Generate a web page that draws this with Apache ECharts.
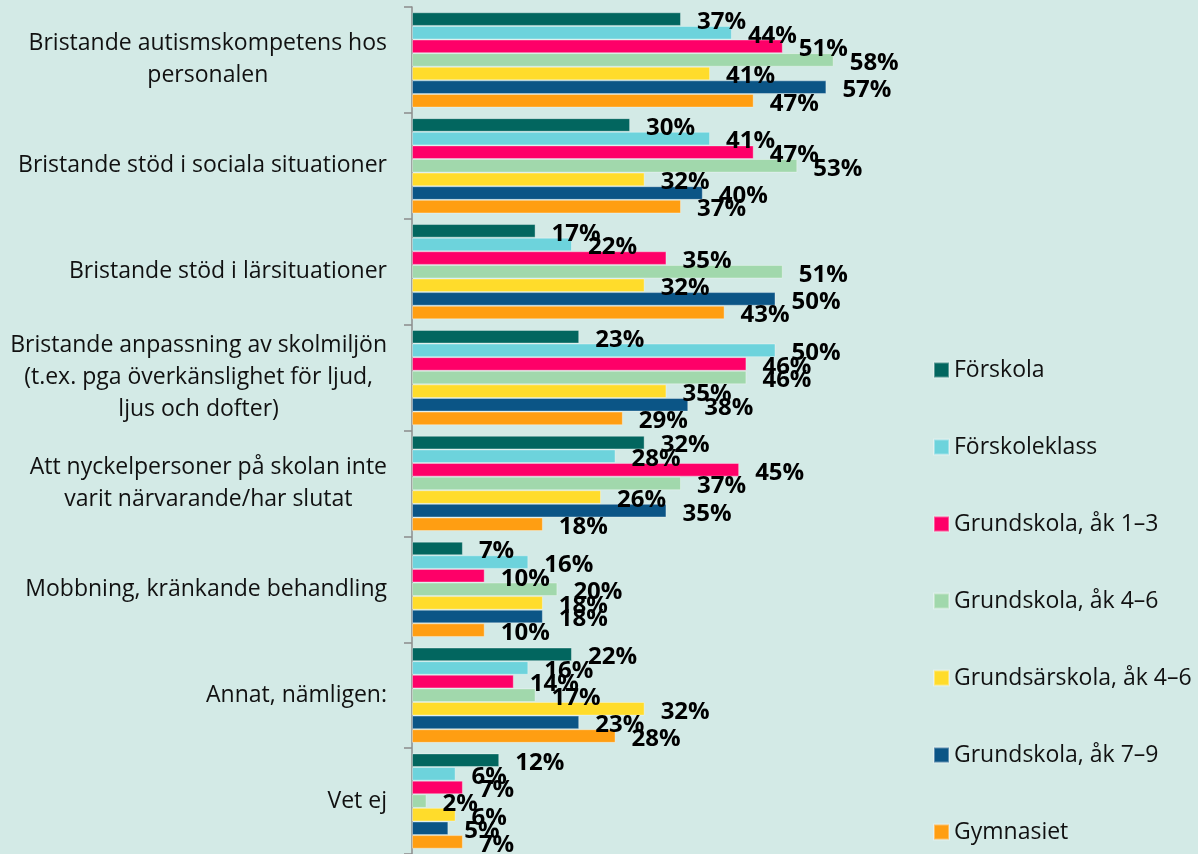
<!DOCTYPE html>
<html>
<head>
<meta charset="utf-8">
<script src="https://cdn.jsdelivr.net/npm/echarts@6/dist/echarts.min.js"></script>
<style>
html,body{margin:0;padding:0;background:#d3eae6;}
#c{width:1198px;height:854px;}
</style>
</head>
<body>
<div id="c"></div>
<script>
const categories = [
  'Bristande autismskompetens hos\npersonalen',
  'Bristande stöd i sociala situationer',
  'Bristande stöd i lärsituationer',
  'Bristande anpassning av skolmiljön\n(t.ex. pga överkänslighet för ljud,\nljus och dofter)',
  'Att nyckelpersoner på skolan inte\nvarit närvarande/har slutat',
  'Mobbning, kränkande behandling',
  'Annat, nämligen:',
  'Vet ej'
];
const seriesNames = [
  'Förskola',
  'Förskoleklass',
  'Grundskola, åk 1–3',
  'Grundskola, åk 4–6',
  'Grundsärskola, åk 4–6',
  'Grundskola, åk 7–9',
  'Gymnasiet'
];
const forskola      = [37, 30, 17, 23, 32,  7, 22, 12];
const forskoleklass = [44, 41, 22, 50, 28, 16, 16,  6];
const grundskola13  = [51, 47, 35, 46, 45, 10, 14,  7];
const grundskola46  = [58, 53, 51, 46, 37, 20, 17,  2];
const grundsar46    = [41, 32, 32, 35, 26, 18, 32,  6];
const grundskola79  = [57, 40, 50, 38, 35, 18, 23,  5];
const gymnasiet     = [47, 37, 43, 29, 18, 10, 28,  7];

const seriesValues = [forskola, forskoleklass, grundskola13, grundskola46, grundsar46, grundskola79, gymnasiet];
const colors = ['#02665f', '#6dd3dc', '#fe0068', '#a1d8ac', '#ffdc2b', '#0b5586', '#ff9e12'];

const chart = echarts.init(document.getElementById('c'));
chart.setOption({
  backgroundColor: '#d3eae6',
  animation: false,
  grid: { left: 412, top: 7, width: 727, height: 848, containLabel: false },
  xAxis: { type: 'value', min: 0, max: 100, show: false },
  yAxis: {
    type: 'category',
    data: categories,
    inverse: true,
    axisLine: { show: true, lineStyle: { color: '#8c8c8c', width: 1.5 } },
    axisTick: { show: true, length: 8, lineStyle: { color: '#8c8c8c', width: 1.5 } },
    splitLine: { show: false },
    axisLabel: {
      margin: 25,
      formatter: function (v) {
        return v.split('\n').map(function (l) { return '{c|' + l + '}'; }).join('\n');
      },
      rich: {
        c: { align: 'center', fontFamily: 'Open Sans', fontSize: 23, color: '#111', lineHeight: 32 }
      }
    }
  },
  legend: {
    orient: 'vertical',
    left: 933,
    top: 358,
    padding: 0,
    itemWidth: 15,
    itemHeight: 15,
    itemGap: 53,
    icon: 'rect',
    selectedMode: false,
    textStyle: { fontFamily: 'Open Sans', fontSize: 23, color: '#111', lineHeight: 24 },
    data: seriesNames
  },
  series: seriesNames.map(function (name, i) {
    return {
      name: name,
      type: 'bar',
      data: seriesValues[i],
      barGap: '0%',
      barCategoryGap: '10%',
      itemStyle: { color: colors[i], borderColor: 'rgba(255,255,255,0.35)', borderWidth: 1 },
      label: {
        show: true,
        position: 'right',
        distance: 16,
        offset: [0, 3],
        formatter: '{c}%',
        fontFamily: 'Open Sans',
        fontWeight: 'bold',
        fontSize: 24,
        color: '#000'
      }
    };
  })
});
</script>
</body>
</html>
